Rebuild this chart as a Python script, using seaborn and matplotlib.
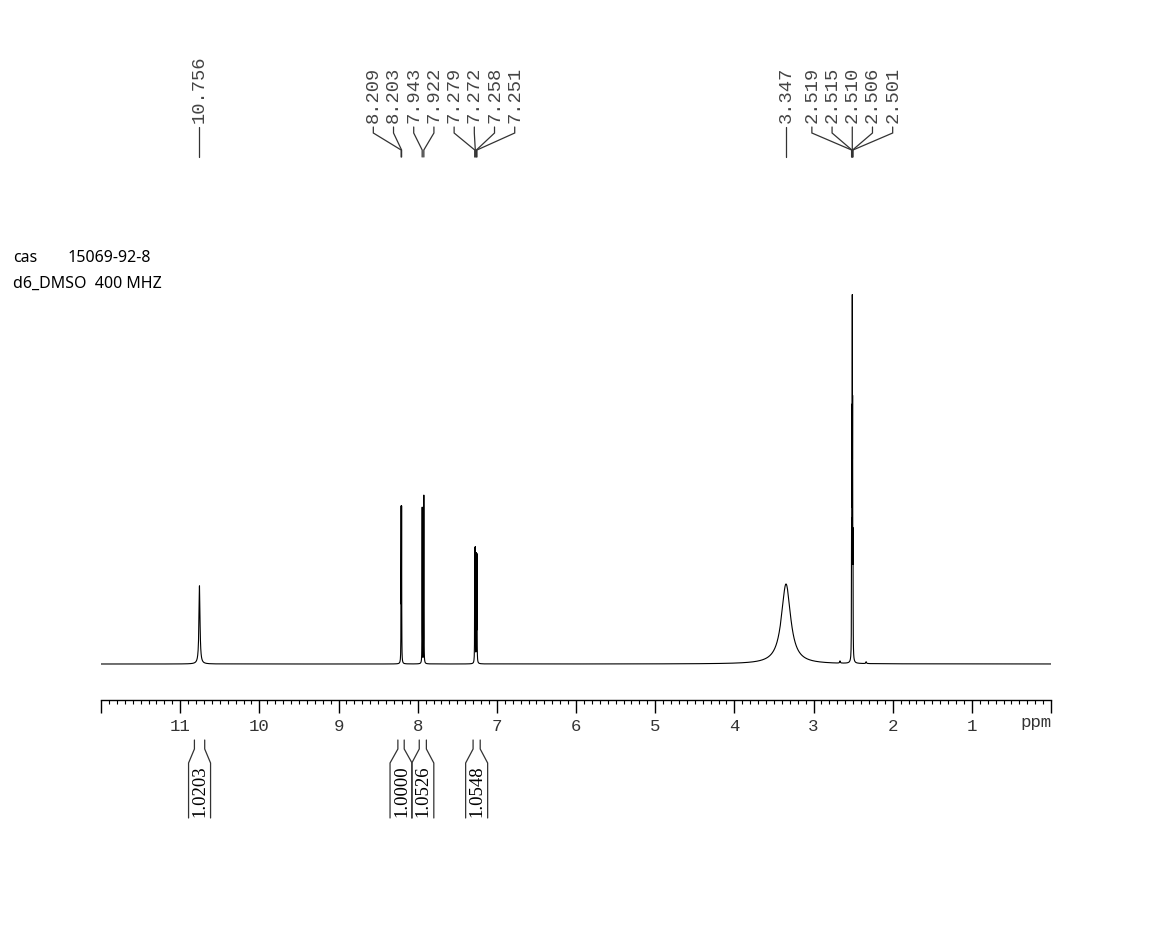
import numpy as np
import matplotlib
matplotlib.use("Agg")
import matplotlib.pyplot as plt
import seaborn as sns

# ---------------- data ----------------
# resolved lines of the 1H spectrum (ppm, relative height, line width in ppm)
peak_ppm = [10.756, 8.209, 8.203, 7.943, 7.922, 7.279, 7.272, 7.258, 7.251,
            3.347, 2.519, 2.515, 2.510, 2.506, 2.501, 2.665, 2.335]
peak_height = [21.3, 40.7, 40.7, 42.5, 45.8, 30.2, 30.2, 28.6, 28.6,
               21.8, 29.0, 58.0, 87.0, 58.0, 29.0, 0.6, 0.5]
peak_fwhm = [0.016, 0.003, 0.003, 0.003, 0.003, 0.003, 0.003, 0.003, 0.003,
             0.14, 0.003, 0.003, 0.003, 0.003, 0.003, 0.01, 0.01]

# peak-pick labels shown above the spectrum
label_ppm = [10.756, 8.209, 8.203, 7.943, 7.922, 7.279, 7.272, 7.258, 7.251,
             3.347, 2.519, 2.515, 2.510, 2.506, 2.501]

# integrals shown below the axis
integral_from = [10.82, 8.25, 7.98, 7.30]
integral_to = [10.69, 8.17, 7.89, 7.21]
integral_value = ["1.0203", "1.0000", "1.0526", "1.0548"]

# axis ticks
major_ticks = list(range(0, 13))
major_labels = ["", "1", "2", "3", "4", "5", "6", "7", "8", "9", "10", "11", ""]

info_key = ["cas", "d6_DMSO  400 MHZ"]
info_val = ["15069-92-8", ""]

# ---------------- figure ----------------
sns.set_theme(style="white")
plt.rcParams["font.family"] = ["DejaVu Sans"]

W, H = 1160, 952
fig = plt.figure(figsize=(W / 100, H / 100), dpi=100)
fig.patch.set_facecolor("white")

# spectrum axes: bottom edge at pixel row 700, top at 60
ax = fig.add_axes([101 / W, 1 - 700 / H, 950 / W, 640 / H])
ax.set_facecolor("none")

x = np.linspace(0, 12, 60001)
y = np.zeros_like(x)
for p, h, w in zip(peak_ppm, peak_height, peak_fwhm):
    y += h / (1 + ((x - p) / (w / 2)) ** 2)

sns.lineplot(x=x, y=y, ax=ax, color="black", linewidth=0.8,
             estimator=None, sort=False, errorbar=None)

ax.set_xlim(12, 0)
ax.set_ylim(-36 / 3.67, 604 / 3.67)
for s in ["top", "left", "right"]:
    ax.spines[s].set_visible(False)
ax.spines["bottom"].set_color("black")
ax.spines["bottom"].set_linewidth(1.0)
ax.set_yticks([])
ax.set_xticks(major_ticks)
ax.set_xticklabels(major_labels, family=["Liberation Mono", "DejaVu Sans Mono"],
                   fontsize=12.5, color="#333333")
ax.set_xticks(np.arange(0, 12.001, 0.1), minor=True)
ax.tick_params(axis="x", which="major", direction="out", length=9, width=1,
               color="black", pad=5, bottom=True)
ax.tick_params(axis="x", which="minor", direction="out", length=3, width=0.8,
               color="black", bottom=True)
ax.set_xlabel("")
ax.set_ylabel("")
ax.grid(False)

# overlay in pixel coordinates for annotations
ov = fig.add_axes([0, 0, 1, 1])
ov.set_xlim(0, W)
ov.set_ylim(H, 0)
ov.axis("off")


def px(ppm):
    return ax.transData.transform((ppm, 0))[0]


mono = ["Liberation Mono", "DejaVu Sans Mono"]
ov.text(1052, 723, "ppm", ha="right", va="center", family=mono,
        fontsize=12.5, color="#333333")

# ---- peak labels (grouped, fanned out) ----
spacing = 20.2
groups = [[label_ppm[0]]]
for v in label_ppm[1:]:
    if groups[-1][-1] - v > 0.75:
        groups.append([v])
    else:
        groups[-1].append(v)

for g in groups:
    pxs = [px(v) for v in g]
    c = np.mean(pxs)
    n = len(g)
    for i, (v, pp) in enumerate(zip(g, pxs)):
        lx = c + (i - (n - 1) / 2) * spacing if n > 1 else pp
        ov.text(lx, 123, f"{v:.3f}", rotation=90, ha="center", va="bottom",
                family=mono, fontsize=13.5, color="#444444")
        ov.plot([lx, lx, pp, pp], [127, 133, 150, 157], color="#333333",
                lw=0.9, solid_joinstyle="miter")

# ---- integrals ----
serif = ["Liberation Serif", "DejaVu Serif"]
half = 11
for a, b, val in zip(integral_from, integral_to, integral_value):
    xa, xb = px(a), px(b)
    c = (xa + xb) / 2
    ov.plot([xa, xa, c - half, c - half], [740, 749, 763, 818],
            color="#333333", lw=0.9)
    ov.plot([xb, xb, c + half, c + half], [740, 749, 763, 818],
            color="#333333", lw=0.9)
    ov.text(c + 0.5, 791, val, rotation=90, ha="center", va="center",
            family=serif, fontsize=13.5, color="black")

# ---- sample info ----
sans = ["Noto Sans", "DejaVu Sans"]
ov.text(13, 258, info_key[0], ha="left", va="center", family=sans,
        fontsize=11.5, color="black")
ov.text(68, 258, info_val[0], ha="left", va="center", family=sans,
        fontsize=11.5, color="black")
ov.text(13, 284, info_key[1], ha="left", va="center", family=sans,
        fontsize=11.5, color="black")

fig.savefig("out.png", dpi=100, facecolor="white")
